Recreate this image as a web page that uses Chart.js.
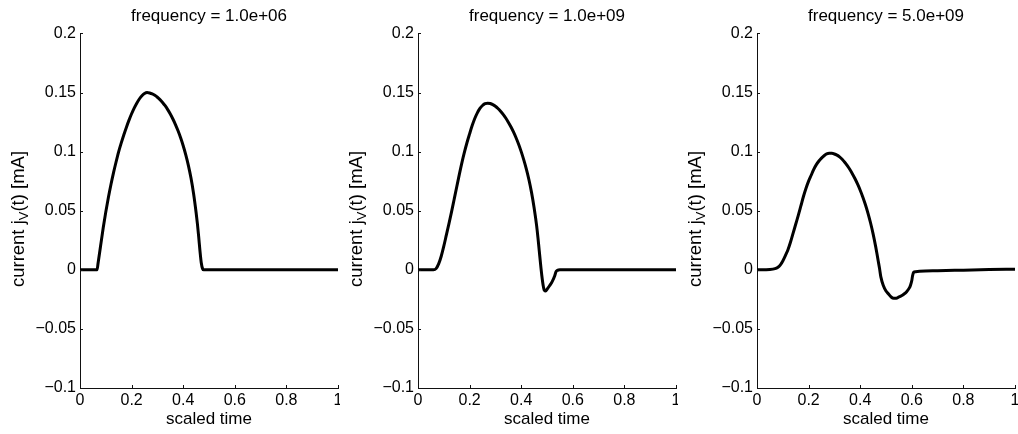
<!DOCTYPE html>
<html>
<head>
<meta charset="utf-8">
<script src="https://cdn.jsdelivr.net/npm/chart.js@4.4.1/dist/chart.umd.min.js"></script>
<style>
  body { margin: 0; background: #fff; }
  #wrap { position: relative; width: 1018px; height: 434px; }
  .panel { position: absolute; top: 0; }
</style>
</head>
<body>
<div id="wrap">
  <div class="panel" style="left:0"><canvas id="c1" width="340" height="434"></canvas></div>
  <div class="panel" style="left:338px"><canvas id="c2" width="340" height="434"></canvas></div>
  <div class="panel" style="left:677px"><canvas id="c3" width="341" height="434"></canvas></div>
</div>
<script>
// chart data
const titles = ['frequency = 1.0e+06', 'frequency = 1.0e+09', 'frequency = 5.0e+09'];

const xTickVals = [0, 0.2, 0.4, 0.6, 0.8, 1];
const xTickLabels = ['0', '0.2', '0.4', '0.6', '0.8', '1'];
const yTickVals = [-0.1, -0.05, 0, 0.05, 0.1, 0.15, 0.2];
const yTickLabels = ['\u22120.1', '\u22120.05', '0', '0.05', '0.1', '0.15', '0.2'];

const t1 = [0, 0.06, 0.066, 0.07, 0.08, 0.09, 0.10, 0.11, 0.12, 0.13, 0.14, 0.15, 0.16, 0.17, 0.18, 0.19, 0.20, 0.21, 0.22, 0.23, 0.24, 0.25, 0.26, 0.27, 0.28, 0.29, 0.30, 0.31, 0.32, 0.33, 0.34, 0.35, 0.36, 0.37, 0.38, 0.39, 0.40, 0.41, 0.42, 0.43, 0.44, 0.45, 0.455, 0.46, 0.465, 0.47, 0.475, 0.48, 1];
const v1 = [0, 0, 0, 0.0055, 0.0205, 0.0355, 0.049, 0.0612, 0.0722, 0.0822, 0.0914, 0.100, 0.1074, 0.1143, 0.1207, 0.1266, 0.132, 0.1368, 0.141, 0.1445, 0.1473, 0.1492, 0.150, 0.1496, 0.1488, 0.1476, 0.146, 0.144, 0.1416, 0.1388, 0.1355, 0.1318, 0.1276, 0.1229, 0.1176, 0.1117, 0.105, 0.0973, 0.0884, 0.0778, 0.0648, 0.0485, 0.039, 0.028, 0.016, 0.006, 0.001, 0, 0];

const t2 = [0, 0.06, 0.07, 0.08, 0.09, 0.10, 0.11, 0.12, 0.13, 0.14, 0.15, 0.16, 0.17, 0.18, 0.19, 0.20, 0.21, 0.22, 0.23, 0.24, 0.25, 0.26, 0.27, 0.28, 0.29, 0.30, 0.31, 0.32, 0.33, 0.34, 0.35, 0.36, 0.37, 0.38, 0.39, 0.40, 0.41, 0.42, 0.43, 0.44, 0.45, 0.46, 0.465, 0.47, 0.475, 0.48, 0.485, 0.49, 0.495, 0.50, 0.51, 0.52, 0.53, 0.535, 0.54, 0.55, 1];
const v2 = [0, 0, 0.001, 0.005, 0.0115, 0.020, 0.0295, 0.039, 0.049, 0.0595, 0.070, 0.0805, 0.0905, 0.0995, 0.1077, 0.115, 0.122, 0.128, 0.1328, 0.1365, 0.139, 0.1405, 0.141, 0.1407, 0.1398, 0.1384, 0.1365, 0.1342, 0.1315, 0.1284, 0.1249, 0.121, 0.1166, 0.1117, 0.1062, 0.100, 0.093, 0.0852, 0.0762, 0.0655, 0.0525, 0.037, 0.027, 0.016, 0.005, -0.005, -0.013, -0.0175, -0.018, -0.0165, -0.0135, -0.010, -0.005, -0.0015, -0.0005, 0, 0];

const t3 = [0, 0.05, 0.07, 0.08, 0.09, 0.10, 0.11, 0.12, 0.13, 0.14, 0.15, 0.16, 0.17, 0.18, 0.19, 0.20, 0.21, 0.22, 0.23, 0.24, 0.25, 0.26, 0.27, 0.28, 0.29, 0.30, 0.31, 0.32, 0.33, 0.34, 0.35, 0.36, 0.37, 0.38, 0.39, 0.40, 0.41, 0.42, 0.43, 0.44, 0.45, 0.46, 0.465, 0.47, 0.475, 0.48, 0.49, 0.50, 0.51, 0.52, 0.53, 0.54, 0.55, 0.56, 0.57, 0.58, 0.59, 0.595, 0.60, 0.603, 0.607, 0.615, 0.63, 0.7, 0.8, 0.9, 1];
const v3 = [0, 0.0003, 0.001, 0.002, 0.004, 0.0075, 0.012, 0.017, 0.0235, 0.031, 0.0385, 0.046, 0.054, 0.062, 0.069, 0.075, 0.080, 0.085, 0.089, 0.092, 0.0945, 0.0965, 0.098, 0.0985, 0.0985, 0.098, 0.097, 0.0955, 0.0935, 0.091, 0.0881, 0.0848, 0.0811, 0.077, 0.0724, 0.0673, 0.0616, 0.0552, 0.048, 0.0398, 0.0304, 0.0196, 0.0136, 0.0073, 0.001, -0.006, -0.0135, -0.018, -0.0205, -0.023, -0.024, -0.024, -0.023, -0.022, -0.0205, -0.0185, -0.0155, -0.013, -0.009, -0.005, -0.0022, -0.0016, -0.0013, -0.0008, -0.0003, 0.0002, 0.0005];

const FONT = 'Liberation Sans, Arial, Helvetica, sans-serif';

// little inward tick marks, like the matlab axes
const innerTicks = {
  id: 'innerTicks',
  afterDraw(chart) {
    const {ctx, chartArea} = chart;
    const xs = chart.scales.x, ys = chart.scales.y;
    ctx.save();
    ctx.strokeStyle = '#111';
    ctx.lineWidth = 1;
    ctx.beginPath();
    xTickVals.forEach(v => {
      const px = Math.round(xs.getPixelForValue(v)) + 0.5;
      ctx.moveTo(px, chartArea.bottom);
      ctx.lineTo(px, chartArea.bottom - 3);
    });
    yTickVals.forEach(v => {
      const py = Math.round(ys.getPixelForValue(v)) + 0.5;
      ctx.moveTo(chartArea.left, py);
      ctx.lineTo(chartArea.left + 3, py);
    });
    ctx.stroke();
    ctx.restore();
  }
};

// y axis title with the subscript V
const yTitle = {
  id: 'yTitle',
  afterDraw(chart) {
    const ctx = chart.ctx;
    const big = '18.5px ' + FONT, small = '13px ' + FONT;
    const parts = [['current j', big, 0], ['V', small, 5], ['(t) [mA]', big, 0]];
    ctx.save();
    let total = 0;
    parts.forEach(p => { ctx.font = p[1]; total += ctx.measureText(p[0]).width; });
    ctx.translate(19, 219);
    ctx.rotate(-Math.PI / 2);
    ctx.fillStyle = '#000';
    ctx.textBaseline = 'middle';
    ctx.textAlign = 'left';
    let x = -total / 2;
    parts.forEach(p => {
      ctx.font = p[1];
      ctx.fillText(p[0], x, p[2]);
      x += ctx.measureText(p[0]).width;
    });
    ctx.restore();
  }
};

function makeChart(id, title, ts, vs, padRight) {
  const pts = ts.map((t, i) => ({x: t, y: vs[i]}));
  return new Chart(document.getElementById(id), {
    type: 'line',
    data: {
      datasets: [{
        data: pts,
        borderColor: '#000',
        borderWidth: 3,
        pointRadius: 0,
        fill: false,
        cubicInterpolationMode: 'monotone'
      }]
    },
    options: {
      responsive: false,
      animation: false,
      layout: { padding: { left: 0, right: padRight, top: 0, bottom: 0 } },
      plugins: {
        legend: { display: false },
        tooltip: { enabled: false },
        title: {
          display: true,
          fullSize: false,
          text: title,
          color: '#000',
          font: { family: FONT, size: 17, weight: 'normal' },
          padding: { top: 6, bottom: 7 }
        }
      },
      scales: {
        x: {
          type: 'linear',
          min: 0, max: 1,
          afterBuildTicks: s => { s.ticks = xTickVals.map(v => ({value: v})); },
          afterFit: s => { s.height = 46; s.paddingLeft = 0; s.paddingRight = 0; },
          ticks: {
            callback: (v, i) => xTickLabels[i],
            color: '#000',
            font: { family: FONT, size: 16 },
            padding: 3,
            maxRotation: 0,
            autoSkip: false
          },
          grid: { display: false, drawTicks: false, tickLength: 0 },
          border: { display: true, color: '#111', width: 1 },
          title: {
            display: true,
            text: 'scaled time',
            color: '#000',
            font: { family: FONT, size: 17 },
            padding: { top: 0, bottom: 4 }
          }
        },
        y: {
          min: -0.1, max: 0.2,
          afterBuildTicks: s => { s.ticks = yTickVals.map(v => ({value: v})); },
          afterFit: s => { s.width = 80; },
          ticks: {
            callback: (v, i) => yTickLabels[i],
            color: '#000',
            font: { family: FONT, size: 16 },
            padding: 4,
            autoSkip: false
          },
          grid: { display: false, drawTicks: false, tickLength: 0 },
          border: { display: true, color: '#111', width: 1 }
        }
      }
    },
    plugins: [innerTicks, yTitle]
  });
}

makeChart('c1', titles[0], t1, v1, 2);
makeChart('c2', titles[1], t2, v2, 2);
makeChart('c3', titles[2], t3, v3, 3);
</script>
</body>
</html>
